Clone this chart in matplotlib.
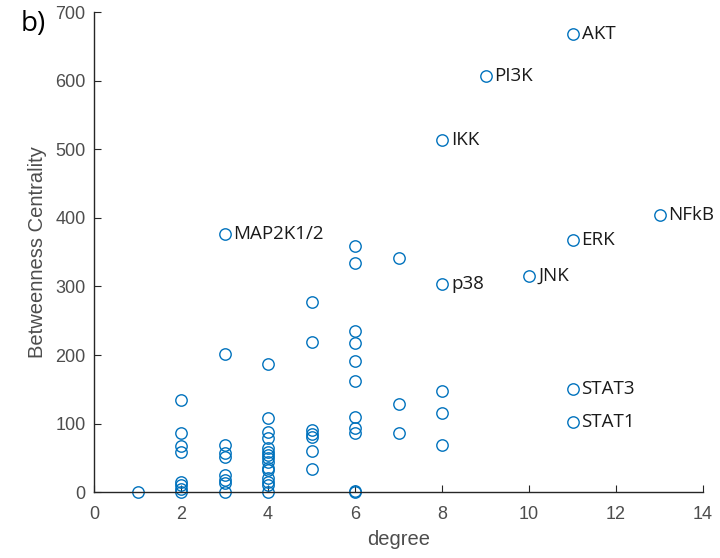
import matplotlib
matplotlib.use('Agg')
import matplotlib.pyplot as plt
import numpy as np

# degree / betweenness centrality, unlabeled nodes
deg_plain = [1,
             2, 2, 2, 2, 2, 2, 2, 2,
             3, 3, 3, 3, 3, 3, 3, 3,
             4, 4, 4, 4, 4, 4, 4, 4, 4, 4, 4, 4, 4, 4, 4,
             5, 5, 5, 5, 5, 5, 5,
             6, 6, 6, 6, 6, 6, 6, 6, 6, 6, 6,
             7, 7, 7,
             8, 8, 8]
bc_plain = [0,
            134, 87, 68, 59, 15, 10, 5, 0,
            202, 69, 57, 51, 25, 18, 13, 0,
            187, 108, 88, 79, 64, 58, 54, 50, 44, 35, 32, 20, 15, 10, 0,
            277, 219, 90, 85, 80, 60, 34,
            359, 334, 235, 217, 191, 162, 110, 93, 87, 1, 0,
            342, 129, 87,
            147, 115, 69]

# labeled nodes
names = ['AKT', 'PI3K', 'IKK', 'NFkB', 'ERK', 'JNK', 'p38', 'MAP2K1/2', 'STAT3', 'STAT1']
deg_named = [11, 9, 8, 13, 11, 10, 8, 3, 11, 11]
bc_named = [669, 607, 514, 404, 368, 315, 304, 376, 150, 102]

blue = '#0072BD'
grey = '#262626'

fig = plt.figure(figsize=(7.2, 5.58), dpi=100)
ax = fig.add_axes([0.1306, 0.118, 0.8458, 0.86])

ax.plot(deg_plain + deg_named, bc_plain + bc_named, 'o', mfc='none', mec=blue,
        ms=8.2, mew=1.0, clip_on=False)

for n, x, y in zip(names, deg_named, bc_named):
    ax.annotate(n, (x, y), xytext=(6.5, 0), textcoords='offset points',
                va='center', ha='left', fontsize=13.5, color='#1a1a1a',
                family='Open Sans')

ax.set_xlim(0, 14)
ax.set_ylim(0, 700)
ax.set_xticks(np.arange(0, 15, 2))
ax.set_yticks(np.arange(0, 800, 100))

ax.spines['top'].set_visible(False)
ax.spines['right'].set_visible(False)
for s in ['left', 'bottom']:
    ax.spines[s].set_color(grey)
    ax.spines[s].set_linewidth(1.0)
ax.tick_params(direction='in', length=5, color=grey, labelcolor='#4d4d4d',
               labelsize=13)
ax.tick_params(axis='x', pad=10)
ax.tick_params(axis='y', pad=6)
for lbl in ax.get_xticklabels() + ax.get_yticklabels():
    lbl.set_family('Liberation Sans')

ax.set_xlabel('degree', fontsize=14.5, color='#4d4d4d', family='Liberation Sans',
              labelpad=5)
ax.set_ylabel('Betweenness Centrality', fontsize=14.5, color='#4d4d4d',
              family='Liberation Sans', labelpad=6)

fig.text(0.028, 0.957, 'b)', fontsize=20, color='black', family='Open Sans',
         va='center')

fig.savefig('out.png', dpi=100)
